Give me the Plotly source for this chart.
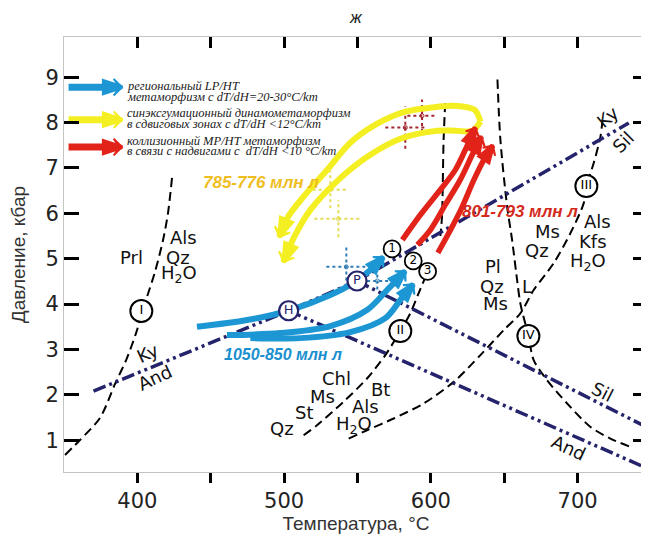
import plotly.graph_objects as go

# ---------------- data ----------------
x_ticks = [400, 450, 500, 550, 600, 650, 700]
x_ticklabels = ["400", " ", "500", " ", "600", " ", "700"]
y_ticks = [1, 2, 3, 4, 5, 6, 7, 8, 9]
y_ticklabels = ["1", "2", "3", "4", "5", "6", "7", "8", "9"]

# dashed reaction curves (T °C, P kbar)
curve_I_T = [350.7, 360.9, 374.5, 384.8, 392.9, 399.1, 405.2, 412.0, 417.5, 420.9, 423.6]
curve_I_P = [0.675, 1.005, 1.49, 2.24, 2.81, 3.36, 4.02, 4.71, 5.41, 6.01, 6.78]
curve_II_T = [513.3, 522.4, 540.4, 556.5, 569.0, 579.2, 586.0, 591.7, 597.8]
curve_II_P = [1.11, 1.33, 1.845, 2.36, 2.876, 3.405, 3.796, 4.24, 4.714]
curve_III_T = [544.0, 556.5, 574.7, 595.1, 615.6, 633.8, 649.7, 661.0, 670.1, 683.7, 695.1, 704.2, 706.0, 711.0, 715.6, 717.0]
curve_III_P = [1.037, 1.22, 1.479, 1.81, 2.286, 2.876, 3.427, 3.796, 4.31, 4.9, 5.561, 6.224, 6.6, 7.107, 7.69, 8.06]
curve_IV_T = [645.4, 647.4, 652.0, 655.4, 658.8, 661.0, 666.5, 670.1, 679.2, 692.9, 708.8, 722.4, 736.0]
curve_IV_P = [8.95, 7.62, 6.148, 5.41, 4.53, 4.017, 3.295, 2.765, 2.324, 1.81, 1.293, 1.037, 0.852]
curve_V_T = [609.8, 608.7, 607.6, 606.5]
curve_V_P = [8.43, 7.62, 5.93, 5.5]

# Al2SiO5 dash-dot lines
kyand_T = [370.1, 503.1, 549.7, 734.9]
kyand_P = [2.081, 3.853, 4.509, 7.99]
andsil_H_T = [503.1, 743.5]
andsil_H_P = [3.853, 0.437]
andsil_P_T = [549.7, 748.0]
andsil_P_P = [4.509, 1.275]

# blue arrows (regional LP/HT)
blue_paths = [
    ([440.6, 474.7, 504.2, 531.5, 547.2, 558.8, 567.6], [3.50, 3.648, 3.869, 4.20, 4.465, 4.752, 5.039]),
    ([461.1, 497.4, 531.5, 556.5, 570.2, 582.6], [3.317, 3.361, 3.516, 3.869, 4.31, 4.73]),
    ([477.0, 511.0, 545.1, 569.0, 579.2, 588.1], [3.25, 3.25, 3.383, 3.692, 4.09, 4.44]),
]
# yellow arrows (syn-exhumational)
yellow_paths = [
    ([633.8, 629.7, 614.7, 599.7, 582.6, 563.5, 545.1, 529.4, 513.1, 502.2, 496.7],
     [8.018, 8.283, 8.371, 8.327, 8.239, 7.974, 7.554, 6.958, 6.362, 5.899, 5.479]),
    ([633.8, 628.3, 616.7, 604.5, 579.2, 556.7, 536.3, 517.9, 506.9, 499.5],
     [8.018, 7.819, 7.819, 7.819, 7.642, 7.245, 6.715, 6.075, 5.479, 4.927]),
]
# red arrows (collisional MP/HT)
red_paths = [
    ([580.6, 592.9, 606.5, 616.7, 623.5, 630.4], [5.416, 5.968, 6.52, 6.958, 7.40, 7.886]),
    ([590.8, 599.7, 609.9, 620.1, 628.3, 634.5], [5.306, 5.637, 6.19, 6.742, 7.294, 7.69]),
    ([604.8, 611.6, 620.5, 629.4, 636.2, 642.3], [5.129, 5.527, 6.08, 6.742, 7.184, 7.493]),
]

# P-T estimates with errors (dotted crosses)
cross_T = [582.6, 594.0, 531.5, 537.0, 542.4, 563.5]
cross_P = [7.89, 8.15, 6.52, 5.88, 4.82, 4.51]
cross_dT = [13.6, 10.0, 12.0, 16.4, 13.6, 11.0]
cross_dP = [0.47, 0.36, 0.41, 0.41, 0.43, 0.19]
cross_group = ["red", "red", "yellow", "yellow", "blue", "blue"]

# triple points and numbered points
tp_labels = ["H", "P"]
tp_T = [503.1, 549.7]
tp_P = [3.853, 4.509]
num_labels = ["1", "2", "3"]
num_T = [573.6, 588.0, 597.8]
num_P = [5.215, 4.95, 4.72]
rom_labels = ["I", "II", "III", "IV"]
rom_T = [402.7, 579.2, 706.0, 666.5]
rom_P = [3.847, 3.405, 6.6, 3.295]

# mineral labels: text, T, P, angle
mineral_labels = [
    ("Prl", 395.7, 5.016, 0), ("Als", 431.1, 5.457, 0), ("Qz", 427.7, 5.016, 0),
    ("H<sub>2</sub>O", 428.4, 4.663, 0),
    ("Ky", 406.6, 2.92, -25), ("And", 412.0, 2.393, -25),
    ("Chl", 536.0, 2.37, 0), ("Ms", 526.5, 1.97, 0), ("St", 513.6, 1.62, 0), ("Qz", 498.6, 1.25, 0),
    ("Bt", 566.0, 2.11, 0), ("Als", 555.8, 1.75, 0), ("H<sub>2</sub>O", 547.6, 1.34, 0),
    ("Pl", 642.4, 4.82, 0), ("Qz", 641.7, 4.38, 0), ("L", 665.6, 4.38, 0), ("Ms", 644.4, 4.02, 0),
    ("Ms", 679.8, 5.61, 0), ("Qz", 672.4, 5.19, 0),
    ("Als", 713.9, 5.81, 0), ("Kfs", 710.5, 5.37, 0), ("H<sub>2</sub>O", 707.1, 4.93, 0),
    ("Sil", 716.7, 2.08, 27), ("And", 693.5, 0.83, 25),
    ("Ky", 720.1, 8.12, -40), ("Sil", 731.0, 7.55, -45),
]
# age labels: text, T, P, colour key, size
age_labels = [
    ("1050-850 млн л", 499.3, 2.90, "blue", 16),
    ("785-776 млн л", 484.3, 6.69, "gold", 17),
    ("801-793 млн л", 660.8, 6.03, "red", 17),
]

# legend
legend_T = [353.1, 389.5]
legend_P = [8.779, 8.062, 7.46]
legend_keys = ["blue", "yellow", "red"]
legend_text_T = 391.6
legend_lines = [
    ("региональный LP/HT", 8.80), ("метаморфизм с dT/dH=20-30°C/km", 8.56),
    ("синэксгумационный динамометаморфизм", 8.21), ("в сдвиговых зонах с dT/dH <12°C/km", 7.97),
    ("коллизионный MP/HT метаморфизм", 7.59), ("в связи с надвигами с  dT/dH <10 °C/km", 7.37),
]

# ---------------- styles ----------------
COL = {"blue": "#1d96d4", "yellow": "#f4ef22", "red": "#e2231a",
       "navy": "#25236b", "gold": "#f0bd1c"}
CROSS_COL = {"red": "#a3262c", "yellow": "#e4dc55", "blue": "#2f7db5"}
AGE_COL = {"blue": "#1a8fcf", "gold": "#efbd1e", "red": "#d32a1c"}

fig = go.Figure()

def dashed(T, P):
    fig.add_trace(go.Scatter(x=T, y=P, mode="lines", hoverinfo="skip", showlegend=False,
                             line=dict(color="black", width=2, dash="9px,5px",
                                       shape="spline", smoothing=0.8)))

def dashdot(T, P):
    fig.add_trace(go.Scatter(x=T, y=P, mode="lines", hoverinfo="skip", showlegend=False,
                             line=dict(color=COL["navy"], width=3.5,
                                       dash="13px,4px,3px,4px,3px,4px")))

def arrow(T, P, color, width, head, spline=True):
    n = len(T)
    fig.add_trace(go.Scatter(
        x=T, y=P, mode="lines+markers", hoverinfo="skip", showlegend=False,
        line=dict(color=color, width=width, shape="spline" if spline else "linear", smoothing=0.9),
        marker=dict(symbol="arrow", angleref="previous", color=color, opacity=1,
                    size=[0] * (n - 1) + [head],
                    line=dict(color=color, width=[0] * (n - 1) + [4]))))
    # wider base of the arrowhead
    fig.add_trace(go.Scatter(
        x=T[-2:], y=P[-2:], mode="markers", hoverinfo="skip", showlegend=False,
        marker=dict(symbol="arrow-wide", angleref="previous", color=color, opacity=1,
                    size=[0, head * 0.62], line=dict(color=color, width=[0, 2]))))

# dotted error crosses
for T, P, dT, dP, g in zip(cross_T, cross_P, cross_dT, cross_dP, cross_group):
    fig.add_trace(go.Scatter(x=[T - dT, T + dT, None, T, T], y=[P, P, None, P - dP, P + dP],
                             mode="lines", hoverinfo="skip", showlegend=False,
                             line=dict(color=CROSS_COL[g], width=2, dash="dot")))
    fig.add_trace(go.Scatter(x=[T], y=[P], mode="markers", hoverinfo="skip", showlegend=False,
                             marker=dict(symbol="circle-open", size=4, color=CROSS_COL[g])))

for T, P in [(curve_I_T, curve_I_P), (curve_II_T, curve_II_P), (curve_III_T, curve_III_P),
             (curve_IV_T, curve_IV_P), (curve_V_T, curve_V_P)]:
    dashed(T, P)

for T, P in [(kyand_T, kyand_P), (andsil_H_T, andsil_H_P), (andsil_P_T, andsil_P_P)]:
    dashdot(T, P)

for T, P in yellow_paths:
    arrow(T, P, COL["yellow"], 6, 19)
for T, P in blue_paths:
    arrow(T, P, COL["blue"], 6, 17)
for T, P in red_paths:
    arrow(T, P, COL["red"], 5.5, 17)

# legend arrows
for key, P in zip(legend_keys, legend_P):
    arrow([legend_T[0], legend_T[1]], [P, P], COL[key], 7, 19, spline=False)

# circles
fig.add_trace(go.Scatter(x=tp_T, y=tp_P, mode="markers+text", text=tp_labels, hoverinfo="skip",
                         showlegend=False, textposition="middle center",
                         textfont=dict(family="DejaVu Sans", size=13, color=COL["navy"]),
                         marker=dict(size=19, color="white", line=dict(color=COL["navy"], width=2.2))))
fig.add_trace(go.Scatter(x=num_T, y=num_P, mode="markers+text", text=num_labels, hoverinfo="skip",
                         showlegend=False, textposition="middle center",
                         textfont=dict(family="DejaVu Sans", size=12, color="black"),
                         marker=dict(size=17, color="white", line=dict(color="black", width=1.8))))
fig.add_trace(go.Scatter(x=rom_T, y=rom_P, mode="markers+text", text=rom_labels, hoverinfo="skip",
                         showlegend=False, textposition="middle center",
                         textfont=dict(family="DejaVu Sans", size=13, color="black"),
                         marker=dict(size=22, color="white", line=dict(color="black", width=2))))

# top mirror axis carrier
fig.add_trace(go.Scatter(x=[None], y=[None], xaxis="x2", showlegend=False, hoverinfo="skip"))

ann = []
for txt, T, P, ang in mineral_labels:
    ann.append(dict(x=T, y=P, text=txt, showarrow=False, textangle=ang,
                    font=dict(family="DejaVu Sans", size=18, color="#111")))
for txt, T, P, c, s in age_labels:
    ann.append(dict(x=T, y=P, text="<b><i>" + txt + "</i></b>", showarrow=False,
                    font=dict(family="Liberation Sans", size=s, color=AGE_COL[c])))
for txt, P in legend_lines:
    ann.append(dict(x=legend_text_T, y=P, text="<i>" + txt + "</i>", showarrow=False,
                    xanchor="left", yanchor="middle",
                    font=dict(family="Liberation Serif", size=12.5, color="#222")))
ann.append(dict(x=0.5, y=1.044, xref="paper", yref="paper", text="<i>ж</i>", showarrow=False,
                yanchor="middle", font=dict(family="Liberation Sans", size=17, color="#222")))

axis_common = dict(showgrid=False, zeroline=False, showline=True, linecolor="#c4c4c4", linewidth=1,
                   tickcolor="black", tickwidth=3, automargin=False)

# page body adds an 8 px offset, so the figure is 8 px smaller and margins compensate
fig.update_layout(
    width=641, height=532, margin=dict(l=56, r=1, t=29, b=68, autoexpand=False),
    paper_bgcolor="white", plot_bgcolor="white", showlegend=False,
    annotations=ann,
    xaxis=dict(range=[350, 748], tickvals=x_ticks, ticktext=x_ticklabels, ticks="outside",
               ticklen=10, tickfont=dict(family="DejaVu Sans", size=21, color="#222"),
               title=dict(text="Температура, °C", standoff=3,
                          font=dict(family="Liberation Sans", size=19, color="#333")),
               **axis_common),
    xaxis2=dict(range=[350, 748], overlaying="x", side="top", tickvals=x_ticks, ticks="inside",
                ticklen=11, showticklabels=False, **axis_common),
    yaxis=dict(range=[0.3, 9.885], tickvals=y_ticks, ticktext=y_ticklabels, ticks="inside",
               ticklen=15, mirror="ticks", tickfont=dict(family="DejaVu Sans", size=21, color="#222"),
               title=dict(text="Давление, кбар", standoff=14,
                          font=dict(family="Liberation Sans", size=19, color="#333")),
               **axis_common),
)

fig.write_html("out.html")
